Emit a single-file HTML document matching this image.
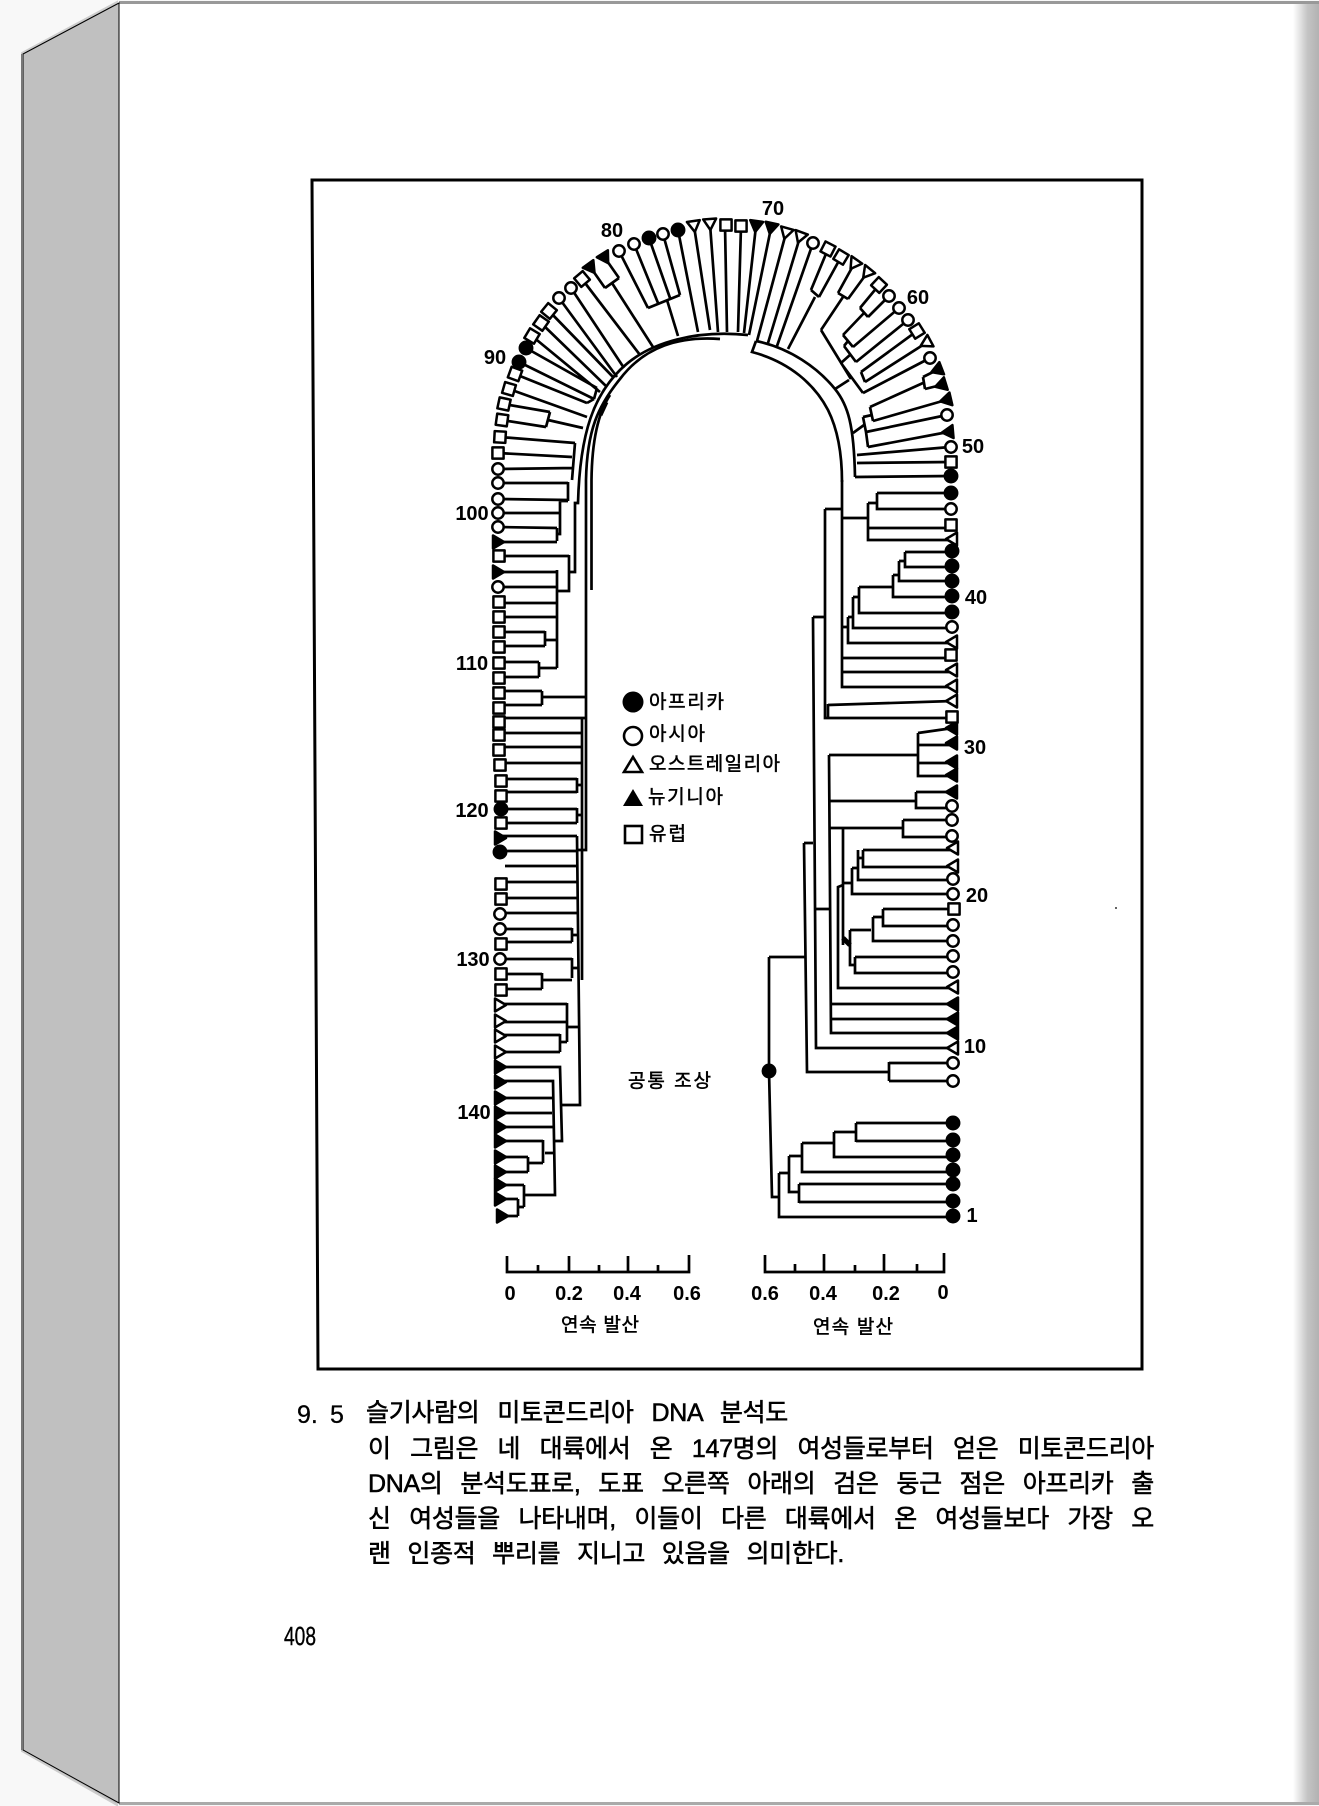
<!DOCTYPE html>
<html lang="ko"><head><meta charset="utf-8"><title>9.5</title>
<style>
html,body{margin:0;padding:0;background:#f8f8f8}
body{width:1319px;height:1806px;position:relative;overflow:hidden;font-family:"Liberation Sans","Noto Sans CJK KR",sans-serif}
svg{position:absolute;left:0;top:0}
.l{position:absolute;left:368px;width:786px;font-size:25px;line-height:30px;color:#000;white-space:normal;text-align:justify;text-align-last:justify;-webkit-text-stroke:.55px #000;letter-spacing:-.3px}
.kr{font-family:"Liberation Sans","Noto Sans CJK KR",sans-serif;stroke:#000;stroke-width:.5}
.n{font:bold 20px "Liberation Sans",sans-serif;text-anchor:middle}
.leaf *{stroke:#000;stroke-width:2.5;stroke-linejoin:round}
.w{fill:#fff}.f{fill:#000}
</style></head><body>
<svg width="1319" height="1806" viewBox="0 0 1319 1806" xmlns="http://www.w3.org/2000/svg">
<defs>
<linearGradient id="g" x1="0" x2="1" y1="0" y2="0"><stop offset="0" stop-color="#fff"/><stop offset=".3" stop-color="#e0e0e0"/><stop offset=".55" stop-color="#c4c4c4"/><stop offset="1" stop-color="#b2b2b2"/></linearGradient>
<path id="t" d="M-6.5-5H6.5L0 6Z"/>
<rect id="s" x="-5.6" y="-5.6" width="11.2" height="11.2"/>
</defs>
<rect x="0" y="0" width="1319" height="1806" fill="#f8f8f8"/>
<rect x="119" y="3" width="1200" height="1800" fill="#fff"/>
<rect x="1293" y="3" width="26" height="1800" fill="url(#g)"/>
<rect x="119" y="1" width="1200" height="3" fill="#999"/>
<rect x="119" y="1802" width="1200" height="3" fill="#aaa"/>
<polygon points="22,53 117,2 117,1805 22,1751" fill="#bbb" stroke="#ccc" stroke-width="2"/>
<polygon points="23,54 119,3 119,1803 23,1750" fill="#c0c0c0" stroke="#000" stroke-width="1"/>
<path d="M22,54V1750" stroke="#777" stroke-width="2" fill="none"/>
<path d="M312,180H1142V1369H318Z" fill="none" stroke="#000" stroke-width="3"/>
<circle cx="1116" cy="908" r="1" fill="#333"/>

<g fill="none" stroke="#000" stroke-width="2.7">
<!-- right column -->
<path d="M769,957V1071L772,1197H779M769,957H805M779,1173V1217H953M779,1173H789M789,1156V1192H799M799,1184V1203M799,1184H953M799,1202H953M789,1156H802M802,1143V1172H953M802,1143H834M834,1132V1157H953M834,1132H856M856,1123V1142M856,1123H953M856,1141H953"/>
<path d="M804,843L807,1072H888M889,1062V1081M889,1063H953M889,1081H953M804,843H813M813,617L816,1048H953M813,617H825M825,509V718H953M828,705L953,701M828,704V718M825,509H842M842,480V687H953M842,518H867M868,503V540H953M868,528H953M868,503H877M877,493V509H953M877,493H953M843,658H953M843,672H953M842,627H848M848,617V643H953M848,617H853M853,597V628H953M853,597H859M859,587V613H953M859,587H892M893,575V597H953M893,575H899M899,561V581H953M899,561H905M905,552V567H953M905,552H953"/>
<path d="M829,755L831,1033H953M829,755H918M918,733V776H953M918,733L953,728M918,745H953M918,763H953M830,801H916M916,792V808H953M916,792H953M816,909H830M830,1004H953M830,1019H953M830,828H903M903,820V837H953M903,820H953M843,828V945M843,883H852M852,868V894H953M852,868H858M858,850V880H953M858,858H863M863,850V867H953M863,850H953M843,885L838,887V988H953M850,930H871M850,930V965H855M855,957V973H953M855,957H953M873,917V941H953M873,917H883M883,909V926H953M883,909H953"/>
<path d="M843,938L850,945" stroke-width="5"/>
<!-- right arch band -->
<path d="M756,341C790,348 818,368 835,389C848,405 854,425 855,477M756,341L752,352C790,362 815,385 828,410C838,430 842,455 842,482"/>
<path d="M756,226L744,333M771,228L749,335M786,233L757,341M800,237L768,343M813,243L777,346M815,297L788,349M828,249L811,290M841,257L819,297M811,290L819,297M854,264L838,293M867,273L848,299M838,293L848,299M843,297L821,330M879,285L860,308M889,296L868,317M860,308L868,317M864,313L843,335M899,308L853,347M843,335L853,347M848,341L844,346M908,320L856,362M844,346L856,362M851,354L841,363M917,331L861,372M926,343L865,382M861,372L865,382M930,358L863,393M841,363L863,393M821,330L851,379M835,389L849,380M937,370L923,377M941,385L925,389M923,377L925,389M923,383L870,407M946,400L873,421M870,407L873,421M872,415L863,417M947,415L866,432M863,417L866,432M864,425L853,433M948,432L868,447M866,432L868,447M950,447L857,455M951,462L857,463M951,476L855,477"/>
<!-- left arch band -->
<path d="M748,335C700,330 650,340 620,370C595,395 580,430 578,503H575V572H569"/>
<path d="M720,339C680,336 645,346 620,379C598,406 587,430 586,480V850H578"/>
<path d="M610,395C600,410 592,435 591.5,480V590"/>
<path d="M606,402L600,415" stroke-width="5"/>
<path d="M725,225L727,332M741,226L738,332M710,224L718,332M694,226L710,330M678,230L698,332M619,251L648,308M634,244L658,303M649,238L670,298M663,234L680,295M648,308L680,295M667,300L678,336M605,258L619,278M591,268L605,288M605,288L619,278M612,283L653,347M582,279L640,355M571,288L624,368M559,298L617,377M549,311L614,378M541,323L607,387M532,336L600,392M526,348L597,388M519,362L594,399M515,374L587,403M597,388L594,399M594,399L587,403M509,389L587,417M504,404L550,412M502,420L546,427M550,412L546,427M548,420L583,428M500,437L575,443M498,453L572,457M498,469L572,468M575,443L572,480"/>
<!-- left column -->
<path d="M498,483H568M568,482V501M498,499L567,500M568,501H560V534H557M498,513H560M557,528V541M498,527L557,528M498,542H557M499,556H569M569,555V591H557M498,572H557M557,570V668M498,587H557M499,603H557M499,617H557M499,632H545M499,646H545M545,631V646M545,640H557M499,662H539M499,677H539M539,662V677M539,668H557M499,691H542M499,705H542M542,691V705M542,697H586M499,718H586M582,718V980M499,733H582M499,747H582M499,763H582M501,779H577M501,792H577M577,778V793M577,785H582M501,809H577M501,823H577M577,808V823M577,815H582M500,836H577M500,851H577M577,836L580,1105H563M505,866H577M501,882H577M501,898H577M500,913H577M501,929H572M501,942H572M572,928V942M572,935H577M500,959H572M572,958V978M572,968H578M501,974H542M501,989H542M542,973V989M542,980H572M500,1004H567M567,1003V1042M500,1022H568M568,1027H578M567,1042H560M560,1034V1052M500,1035H560M500,1052H560M500,1067H560L562,1141H555M562,1105H580M500,1081H553L555,1195H525M500,1098H552M500,1113H552M500,1127H553M500,1141H543M543,1140V1163M500,1157H528M500,1172H528M528,1157V1172M528,1163H543M545,1153H555M500,1185H524M524,1185V1207M500,1199H518M500,1216H518M518,1199V1216M518,1207H524"/>
<!-- axes -->
<path d="M507,1256V1272H689V1255M538,1265V1272M569,1256V1272M599,1265V1272M628,1256V1272M658,1265V1272"/>
<path d="M765,1255V1272H944V1253M795,1264V1272M824,1254V1272M855,1265V1272M884,1254V1272M917,1264V1272"/>
</g>

<g class="leaf">
<!-- right column -->
<circle class="f" cx="953" cy="1216" r="6.2"/><circle class="f" cx="953" cy="1201" r="6.2"/><circle class="f" cx="953" cy="1184" r="6.2"/><circle class="f" cx="953" cy="1170" r="6.2"/><circle class="f" cx="953" cy="1155" r="6.2"/><circle class="f" cx="953" cy="1140" r="6.2"/><circle class="f" cx="953" cy="1123" r="6.2"/>
<circle class="w" cx="953" cy="1081" r="5.7"/><circle class="w" cx="953" cy="1063" r="5.7"/>
<use href="#t" class="w" transform="translate(953 1048) rotate(90)"/>
<use href="#t" class="f" transform="translate(953 1033) rotate(90)"/><use href="#t" class="f" transform="translate(953 1019) rotate(90)"/><use href="#t" class="f" transform="translate(953 1004) rotate(90)"/>
<use href="#t" class="w" transform="translate(953 987) rotate(90)"/>
<circle class="w" cx="953" cy="972" r="5.7"/><circle class="w" cx="953" cy="956" r="5.7"/><circle class="w" cx="953" cy="941" r="5.7"/><circle class="w" cx="953" cy="925" r="5.7"/>
<use href="#s" class="w" transform="translate(954 909)"/>
<circle class="w" cx="953" cy="894" r="5.7"/><circle class="w" cx="953" cy="879" r="5.7"/>
<use href="#t" class="w" transform="translate(953 866) rotate(90)"/><use href="#t" class="w" transform="translate(953 848) rotate(90)"/>
<circle class="w" cx="952" cy="836" r="5.7"/><circle class="w" cx="952" cy="820" r="5.7"/><circle class="w" cx="952" cy="806" r="5.7"/>
<use href="#t" class="f" transform="translate(952 792) rotate(90)"/><use href="#t" class="f" transform="translate(952 775) rotate(90)"/><use href="#t" class="f" transform="translate(952 762) rotate(90)"/><use href="#t" class="f" transform="translate(952 743) rotate(90)"/><use href="#t" class="f" transform="translate(952 728) rotate(90)"/>
<use href="#s" class="w" transform="translate(952 717)"/>
<use href="#t" class="w" transform="translate(952 701) rotate(90)"/><use href="#t" class="w" transform="translate(952 686) rotate(90)"/><use href="#t" class="w" transform="translate(952 670) rotate(90)"/>
<use href="#s" class="w" transform="translate(951 655)"/>
<use href="#t" class="w" transform="translate(952 642) rotate(90)"/>
<circle class="w" cx="952" cy="627" r="5.7"/>
<circle class="f" cx="952" cy="612" r="6.2"/><circle class="f" cx="952" cy="596" r="6.2"/><circle class="f" cx="952" cy="581" r="6.2"/><circle class="f" cx="952" cy="566" r="6.2"/><circle class="f" cx="952" cy="551" r="6.2"/>
<use href="#t" class="w" transform="translate(952 539) rotate(90)"/>
<use href="#s" class="w" transform="translate(951 525)"/>
<circle class="w" cx="951" cy="509" r="5.7"/>
<circle class="f" cx="951" cy="493" r="6.2"/><circle class="f" cx="951" cy="476" r="6.2"/>
<use href="#s" class="w" transform="translate(951 462)"/>
<circle class="w" cx="951" cy="447" r="5.7"/>
<!-- arch -->
<use href="#t" class="f" transform="translate(948 432) rotate(85)"/>
<circle class="w" cx="947" cy="415" r="5.7"/>
<use href="#t" class="f" transform="translate(946 400) rotate(77)"/><use href="#t" class="f" transform="translate(941 385) rotate(73)"/><use href="#t" class="f" transform="translate(937 370) rotate(69)"/>
<circle class="w" cx="930" cy="358" r="5.7"/>
<use href="#t" class="w" transform="translate(926 343) rotate(62)"/>
<use href="#s" class="w" transform="translate(917 331) rotate(58)"/>
<circle class="w" cx="908" cy="320" r="5.7"/><circle class="w" cx="899" cy="308" r="5.7"/><circle class="w" cx="889" cy="296" r="5.7"/>
<use href="#s" class="w" transform="translate(879 285) rotate(43)"/>
<use href="#t" class="w" transform="translate(867 273) rotate(39)"/><use href="#t" class="w" transform="translate(854 264) rotate(35)"/>
<use href="#s" class="w" transform="translate(841 257) rotate(31)"/><use href="#s" class="w" transform="translate(828 249) rotate(27)"/>
<circle class="w" cx="813" cy="243" r="5.7"/>
<use href="#t" class="w" transform="translate(800 237) rotate(20)"/><use href="#t" class="w" transform="translate(786 233) rotate(16)"/>
<use href="#t" class="f" transform="translate(771 228) rotate(12)"/><use href="#t" class="f" transform="translate(756 226) rotate(8)"/>
<use href="#s" class="w" transform="translate(741 226)"/><use href="#s" class="w" transform="translate(726 225)"/>
<use href="#t" class="w" transform="translate(710 224) rotate(-4)"/><use href="#t" class="w" transform="translate(694 226) rotate(-8)"/>
<circle class="f" cx="678" cy="230" r="6.2"/><circle class="w" cx="663" cy="234" r="5.7"/><circle class="f" cx="649" cy="238" r="6.2"/><circle class="w" cx="634" cy="244" r="5.7"/><circle class="w" cx="619" cy="251" r="5.7"/>
<use href="#t" class="f" transform="translate(605 258) rotate(-32)"/><use href="#t" class="f" transform="translate(591 268) rotate(-36)"/>
<use href="#s" class="w" transform="translate(582 279) rotate(-40)"/>
<circle class="w" cx="571" cy="288" r="5.7"/><circle class="w" cx="559" cy="298" r="5.7"/>
<use href="#s" class="w" transform="translate(549 311) rotate(-51)"/><use href="#s" class="w" transform="translate(541 323) rotate(-55)"/><use href="#s" class="w" transform="translate(532 336) rotate(-59)"/>
<circle class="f" cx="526" cy="348" r="6.2"/><circle class="f" cx="519" cy="362" r="6.2"/>
<use href="#s" class="w" transform="translate(515 374) rotate(-70)"/><use href="#s" class="w" transform="translate(509 389) rotate(-74)"/><use href="#s" class="w" transform="translate(504 404) rotate(-78)"/><use href="#s" class="w" transform="translate(502 420) rotate(-82)"/><use href="#s" class="w" transform="translate(500 437) rotate(-87)"/><use href="#s" class="w" transform="translate(498 453)"/>
<!-- left column -->
<circle class="w" cx="498" cy="469" r="5.7"/><circle class="w" cx="498" cy="483" r="5.7"/><circle class="w" cx="498" cy="499" r="5.7"/><circle class="w" cx="498" cy="513" r="5.7"/><circle class="w" cx="498" cy="527" r="5.7"/>
<use href="#t" class="f" transform="translate(498 542) rotate(-90)"/>
<use href="#s" class="w" transform="translate(499 556)"/>
<use href="#t" class="f" transform="translate(498 572) rotate(-90)"/>
<circle class="w" cx="498" cy="587" r="5.7"/>
<use href="#s" class="w" transform="translate(499 602)"/><use href="#s" class="w" transform="translate(499 617)"/><use href="#s" class="w" transform="translate(499 632)"/><use href="#s" class="w" transform="translate(499 647)"/><use href="#s" class="w" transform="translate(499 663)"/><use href="#s" class="w" transform="translate(499 678)"/><use href="#s" class="w" transform="translate(499 693)"/><use href="#s" class="w" transform="translate(499 708)"/><use href="#s" class="w" transform="translate(499 722)"/><use href="#s" class="w" transform="translate(499 735)"/><use href="#s" class="w" transform="translate(499 750)"/><use href="#s" class="w" transform="translate(500 765)"/><use href="#s" class="w" transform="translate(501 781)"/><use href="#s" class="w" transform="translate(501 796)"/>
<circle class="f" cx="501" cy="809" r="6.2"/>
<use href="#s" class="w" transform="translate(501 823)"/>
<use href="#t" class="f" transform="translate(500 838) rotate(-90)"/>
<circle class="f" cx="500" cy="852" r="6.2"/>
<use href="#s" class="w" transform="translate(501 884)"/><use href="#s" class="w" transform="translate(501 899)"/>
<circle class="w" cx="500" cy="914" r="5.7"/><circle class="w" cx="500" cy="929" r="5.7"/>
<use href="#s" class="w" transform="translate(501 944)"/>
<circle class="w" cx="500" cy="959" r="5.7"/>
<use href="#s" class="w" transform="translate(501 974)"/><use href="#s" class="w" transform="translate(501 990)"/>
<use href="#t" class="w" transform="translate(500 1005) rotate(-90)"/><use href="#t" class="w" transform="translate(500 1021) rotate(-90)"/><use href="#t" class="w" transform="translate(500 1036) rotate(-90)"/><use href="#t" class="w" transform="translate(500 1052) rotate(-90)"/>
<use href="#t" class="f" transform="translate(500 1067) rotate(-90)"/><use href="#t" class="f" transform="translate(500 1082) rotate(-90)"/><use href="#t" class="f" transform="translate(500 1098) rotate(-90)"/><use href="#t" class="f" transform="translate(500 1113) rotate(-90)"/><use href="#t" class="f" transform="translate(500 1127) rotate(-90)"/><use href="#t" class="f" transform="translate(500 1141) rotate(-90)"/><use href="#t" class="f" transform="translate(500 1157) rotate(-90)"/><use href="#t" class="f" transform="translate(500 1172) rotate(-90)"/><use href="#t" class="f" transform="translate(500 1185) rotate(-90)"/><use href="#t" class="f" transform="translate(500 1199) rotate(-90)"/><use href="#t" class="f" transform="translate(502 1216) rotate(-90)"/>
<circle class="f" cx="769" cy="1071" r="6.2"/>
</g>

<!-- numbers -->
<g class="n">
<text x="773" y="215">70</text><text x="612" y="237">80</text><text x="495" y="364">90</text><text x="918" y="304">60</text><text x="973" y="453">50</text><text x="976" y="604">40</text><text x="975" y="754">30</text><text x="977" y="902">20</text><text x="975" y="1053">10</text><text x="972" y="1222">1</text>
<text x="472" y="520">100</text><text x="472" y="670">110</text><text x="472" y="817">120</text><text x="473" y="966">130</text><text x="474" y="1119">140</text>
<text x="510" y="1300">0</text><text x="569" y="1300">0.2</text><text x="627" y="1300">0.4</text><text x="687" y="1300">0.6</text>
<text x="765" y="1300">0.6</text><text x="823" y="1300">0.4</text><text x="886" y="1300">0.2</text><text x="943" y="1299">0</text>
</g>

<!-- legend -->
<circle cx="633" cy="702" r="10.5" fill="#000"/>
<circle cx="633" cy="736" r="9" fill="#fff" stroke="#000" stroke-width="2.6"/>
<polygon points="624,772 642,772 633,757" fill="#fff" stroke="#000" stroke-width="2.6"/>
<polygon points="623,806 643,806 633,789" fill="#000"/>
<rect x="625" y="826" width="17" height="17" fill="#fff" stroke="#000" stroke-width="2.6"/>
<g class="kr" font-size="19">
<text x="649" y="708" textLength="75">아프리카</text>
<text x="649" y="740" textLength="56">아시아</text>
<text x="649" y="770" textLength="131">오스트레일리아</text>
<text x="648" y="803" textLength="75">뉴기니아</text>
<text x="649" y="840" textLength="37">유럽</text>
<text x="628" y="1087" textLength="83">공통 조상</text>
<text x="561" y="1331" textLength="78">연속 발산</text>
<text x="813" y="1333" textLength="80">연속 발산</text>
</g>
<text x="284" y="1645" font-family="Liberation Sans" font-size="26" textLength="32" lengthAdjust="spacingAndGlyphs" stroke="#000" stroke-width=".4">408</text>
<text x="297" y="1423" font-family="Liberation Sans" font-size="25" stroke="#000" stroke-width=".3">9.</text>
<text x="330" y="1423" font-family="Liberation Sans" font-size="25" stroke="#000" stroke-width=".3">5</text>
</svg>
<div class="l" style="top:1398px;width:422px;left:366px">슬기사람의 미토콘드리아 DNA 분석도</div>
<div class="l" style="top:1434px">이 그림은 네 대륙에서 온 147명의 여성들로부터 얻은 미토콘드리아</div>
<div class="l" style="top:1469px">DNA의 분석도표로, 도표 오른쪽 아래의 검은 둥근 점은 아프리카 출</div>
<div class="l" style="top:1504px">신 여성들을 나타내며, 이들이 다른 대륙에서 온 여성들보다 가장 오</div>
<div class="l" style="top:1539px;width:476px">랜 인종적 뿌리를 지니고 있음을 의미한다.</div>
</body></html>
